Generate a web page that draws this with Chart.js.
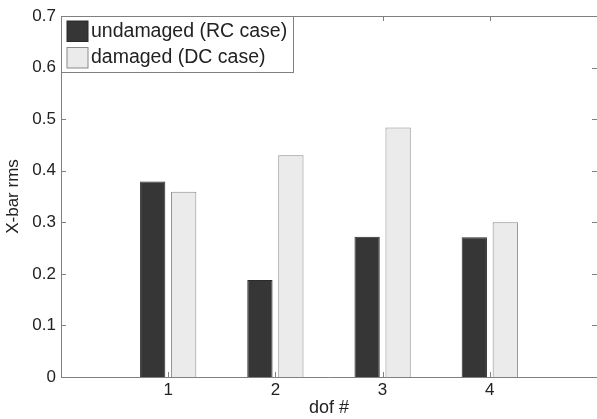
<!DOCTYPE html>
<html>
<head>
<meta charset="utf-8">
<script src="https://cdn.jsdelivr.net/npm/chart.js@4/dist/chart.umd.min.js"></script>
<style>
html,body{margin:0;padding:0;background:#fff;}
canvas{display:block;}
</style>
</head>
<body>
<canvas id="c" width="597" height="419"></canvas>
<script>
// ---- data ----
const categories = [1, 2, 3, 4];
const undamaged = [0.379, 0.188, 0.272, 0.271];
const damaged = [0.359, 0.430, 0.484, 0.300];
const yTickValues = [0, 0.1, 0.2, 0.3, 0.4, 0.5, 0.6, 0.7];
const seriesLabels = ['undamaged (RC case)', 'damaged (DC case)'];
const xTitle = 'dof #';
const yTitle = 'X-bar rms';

const FONT = '"Liberation Sans", Arial, Helvetica, sans-serif';
const AXIS = '#808080';
const TEXT = '#222222';

const insideTicks = {
  id: 'insideTicks',
  afterDatasetsDraw(chart) {
    const {ctx, chartArea: a, scales: {x, y}} = chart;
    ctx.save();
    ctx.strokeStyle = AXIS;
    ctx.lineWidth = 1;
    ctx.beginPath();
    // top border
    ctx.moveTo(a.left, Math.round(a.top) + 0.5);
    ctx.lineTo(a.right, Math.round(a.top) + 0.5);
    yTickValues.forEach(v => {
      const py = Math.round(y.getPixelForValue(v)) + 0.5;
      ctx.moveTo(a.left, py); ctx.lineTo(a.left + 5, py);
      ctx.moveTo(a.right - 5, py); ctx.lineTo(a.right, py);
    });
    categories.forEach(v => {
      const px = Math.round(x.getPixelForValue(v)) + 0.5;
      ctx.moveTo(px, a.bottom); ctx.lineTo(px, a.bottom - 5);
      ctx.moveTo(px, a.top); ctx.lineTo(px, a.top + 5);
    });
    ctx.stroke();
    ctx.restore();
  }
};

const boxLegend = {
  id: 'boxLegend',
  afterDraw(chart) {
    const {ctx, chartArea: a} = chart;
    const left = Math.round(a.left) + 0.5, top = Math.round(a.top) + 0.5;
    const w = 232, h = 56;
    ctx.save();
    ctx.fillStyle = '#ffffff';
    ctx.fillRect(left, top, w, h);
    ctx.strokeStyle = AXIS;
    ctx.lineWidth = 1;
    ctx.strokeRect(left, top, w, h);
    ctx.font = '19.5px ' + FONT;
    ctx.textBaseline = 'middle';
    ctx.textAlign = 'left';
    chart.data.datasets.forEach((ds, i) => {
      const sy = top + 4.5 + i * 26.5;
      ctx.fillStyle = ds.backgroundColor;
      ctx.fillRect(left + 5.5, sy, 21, 20.5);
      ctx.strokeStyle = ds.borderColor;
      ctx.strokeRect(left + 5.5, sy, 21, 20.5);
      ctx.fillStyle = TEXT;
      ctx.fillText(ds.label, left + 29.5, sy + 10.5);
    });
    ctx.restore();
  }
};

new Chart(document.getElementById('c'), {
  type: 'bar',
  data: {
    datasets: [
      {
        label: seriesLabels[0],
        data: categories.map((c, i) => ({x: c, y: undamaged[i]})),
        backgroundColor: '#363636',
        borderColor: '#2b2b2b',
        borderWidth: 1,
        categoryPercentage: 0.578,
        barPercentage: 0.816
      },
      {
        label: seriesLabels[1],
        data: categories.map((c, i) => ({x: c, y: damaged[i]})),
        backgroundColor: '#ebebeb',
        borderColor: '#8a8a8a',
        borderWidth: 1,
        categoryPercentage: 0.578,
        barPercentage: 0.816
      }
    ]
  },
  options: {
    responsive: false,
    animation: false,
    devicePixelRatio: 1,
    layout: {padding: {top: 16, right: 0, left: 0, bottom: 0}},
    plugins: {legend: {display: false}, tooltip: {enabled: false}},
    scales: {
      x: {
        type: 'linear',
        offset: false,
        min: 0, max: 5,
        afterBuildTicks: s => { s.ticks = categories.map(v => ({value: v})); },
        afterFit: s => { s.height = 42; },
        grid: {display: false, drawTicks: false, offset: false},
        border: {display: true, color: AXIS, width: 1},
        ticks: {
          padding: 3,
          color: TEXT,
          font: {family: FONT, size: 17},
          callback: v => String(v)
        },
        title: {
          display: true, text: xTitle, color: TEXT,
          font: {family: FONT, size: 18, lineHeight: 1.2},
          padding: {top: 0, bottom: 0}
        }
      },
      y: {
        min: 0, max: 0.7,
        afterBuildTicks: s => { s.ticks = yTickValues.map(v => ({value: v})); },
        afterFit: s => { s.width = 61; },
        grid: {display: false, drawTicks: false},
        border: {display: true, color: AXIS, width: 1},
        ticks: {
          padding: 5,
          color: TEXT,
          font: {family: FONT, size: 17},
          callback: v => (v === 0 ? '0' : Number(v).toFixed(1))
        },
        title: {
          display: true, text: yTitle, color: TEXT,
          font: {family: FONT, size: 17, lineHeight: 1.2},
          padding: {top: 3, bottom: 0}
        }
      }
    }
  },
  plugins: [insideTicks, boxLegend]
});
</script>
</body>
</html>
